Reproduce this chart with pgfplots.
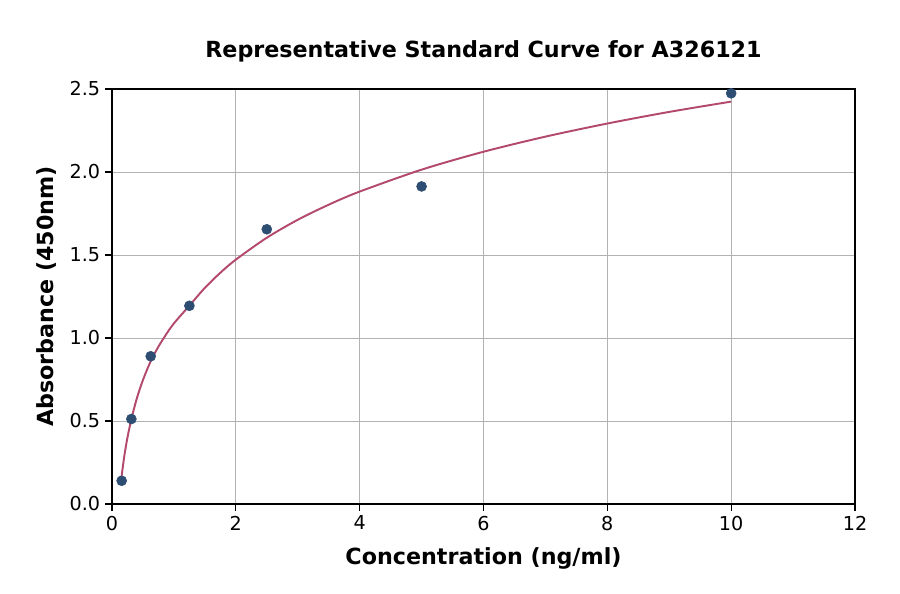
\documentclass[border=0pt]{standalone}
\usepackage{fontspec}
\setmainfont{DejaVu Sans}
\usepackage{pgfplots}
\pgfplotsset{compat=1.18}
\definecolor{ptcol}{HTML}{2E4D72}
\definecolor{curvecol}{HTML}{B34A6E}
\begin{document}
\begin{tikzpicture}[x=1pt,y=1pt]
\begin{axis}[
  at={(0,0)}, anchor=south west,
  scale only axis,
  width=743*0.72pt, height=415*0.72pt,
  xmin=0, xmax=12, ymin=0, ymax=2.5,
  xtick={0,2,4,6,8,10,12},
  ytick={0,0.5,1.0,1.5,2.0,2.5},
  yticklabel style={/pgf/number format/fixed,/pgf/number format/fixed zerofill,/pgf/number format/precision=1},
  /pgf/number format/assume math mode=true,
  tick label style={font=\fontsize{13.8}{15}\selectfont},
  grid=major,
  grid style={color=black!30, line width=0.6pt},
  axis line style={line width=0.8pt},
  tick style={black, line width=0.8pt},
  tick align=outside,
  major tick length=5pt,
  xtick pos=bottom, ytick pos=left,
  xlabel={\bfseries Concentration (ng/ml)},
  ylabel={\bfseries Absorbance (450nm)},
  xlabel style={font=\fontsize{16}{18}\selectfont\bfseries, yshift=-5.5pt},
  ylabel style={font=\fontsize{16}{18}\selectfont\bfseries, yshift=3pt},
  title={\bfseries Representative Standard Curve for A326121},
  title style={font=\fontsize{16}{18}\selectfont\bfseries, yshift=10pt},
  clip=false,
]
\addplot[curvecol, line width=1.4pt, smooth, no markers] coordinates {
(0.156,0.17) (0.2,0.292) (0.25,0.401) (0.3125,0.51) (0.4,0.635) (0.5,0.747)
(0.625,0.86) (0.75,0.948) (0.875,1.022) (1.0,1.088) (1.25,1.195) (1.5,1.302)
(1.75,1.393) (2,1.472) (2.5,1.604) (3,1.712) (3.5,1.803) (4,1.882)
(5,2.014) (6,2.122) (7,2.213) (8,2.292) (9,2.362) (10,2.424)
};
\addplot[only marks, mark=*, mark size=3.6pt, mark options={fill=ptcol, draw=ptcol}] coordinates {
(0.156,0.14) (0.3125,0.512) (0.625,0.89) (1.25,1.194) (2.5,1.655) (5,1.913) (10,2.474)
};
\end{axis}
\path (-112*0.72,-90*0.72) rectangle (788*0.72,504*0.72);
\end{tikzpicture}
\end{document}
